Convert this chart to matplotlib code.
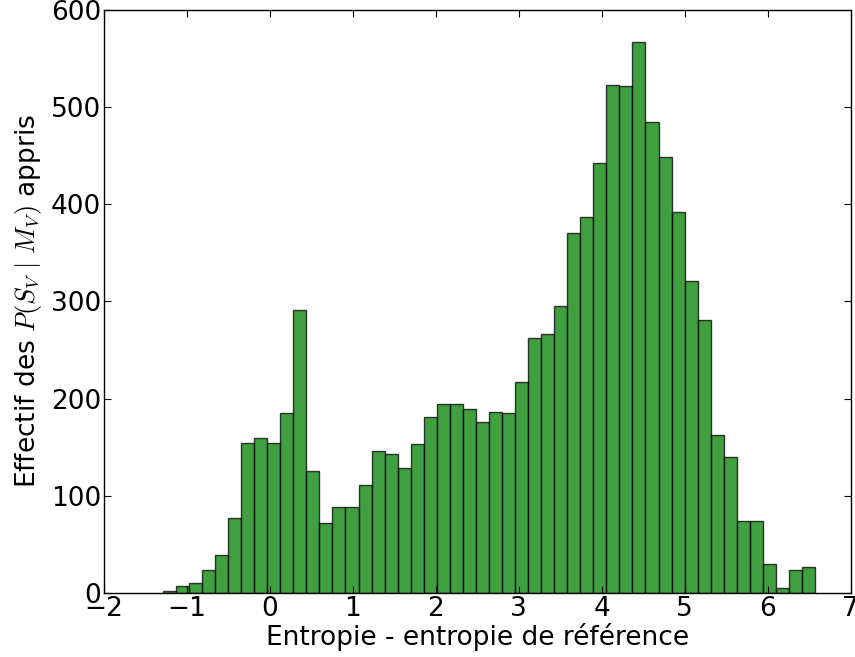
import numpy as np
import matplotlib
matplotlib.use("Agg")
import matplotlib.pyplot as plt

# Histogram data (50 equal-width bins)
bin_lo = -1.29
bin_hi = 6.57
counts = [2, 7, 10, 24, 39, 77, 154, 160, 154, 185,
          291, 126, 72, 88, 89, 111, 146, 143, 129, 153,
          181, 194, 194, 189, 176, 186, 185, 217, 262, 267,
          295, 370, 387, 443, 523, 522, 567, 485, 449, 392,
          321, 281, 163, 140, 74, 74, 30, 5, 24, 27]
xticks = [-2, -1, 0, 1, 2, 3, 4, 5, 6, 7]
yticks = [0, 100, 200, 300, 400, 500, 600]

plt.rcParams['mathtext.fontset'] = 'cm'
plt.rcParams['font.family'] = ['DejaVu Sans']

edges = np.linspace(bin_lo, bin_hi, len(counts) + 1)
centers = (edges[:-1] + edges[1:]) / 2

fig = plt.figure(figsize=(8.55, 6.57), dpi=100)
ax = fig.add_axes([0.1216, 0.0974, 0.8734, 0.8874])
ax.hist(centers, bins=edges, weights=counts, color='green', alpha=0.75,
        edgecolor='black', linewidth=1.0)
ax.set_xlim(-2, 7)
ax.set_ylim(0, 600)
ax.set_xticks(xticks)
ax.set_yticks(yticks)
ax.tick_params(direction='in', top=True, right=True, labelsize=19, length=5, pad=2)
ax.set_xlabel('Entropie - entropie de référence', fontsize=19, labelpad=1)
ax.set_ylabel(r'Effectif des $P(S_V\ |\ M_V)$ appris', fontsize=19, labelpad=5)
for s in ax.spines.values():
    s.set_linewidth(1.0)
fig.savefig('out.png', dpi=100)
